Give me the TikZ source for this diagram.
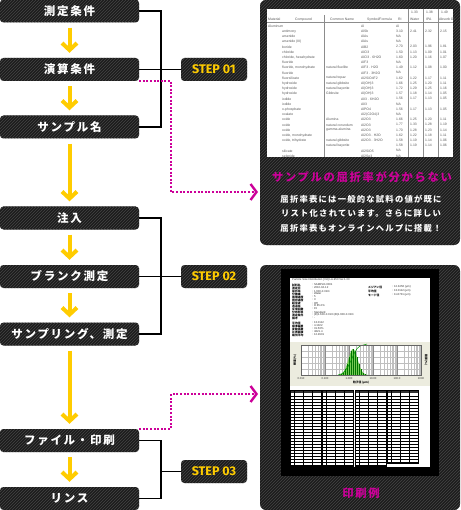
\documentclass[tikz,border=0pt]{standalone}
\usepackage{fontspec}
\setmainfont{Liberation Sans}
\newfontfamily\jp{Noto Sans CJK JP}[LetterSpace=15]
\newfontfamily\jpn{Noto Sans CJK JP}
\newfontfamily\stepf{Fira Sans}
\usetikzlibrary{patterns,arrows.meta,calc}
\definecolor{yel}{HTML}{FFCC00}
\definecolor{mag}{HTML}{CC0099}
\definecolor{hatchbg}{HTML}{1C1C1C}
\definecolor{hatchln}{HTML}{454545}
\definecolor{chartbg}{HTML}{ECECDF}
\definecolor{hgreen}{HTML}{77CC55}
\begin{document}
\begin{tikzpicture}[x=1pt,y=-1pt,
  hatch/.style={preaction={fill=hatchbg}, pattern=north east lines, pattern color=hatchln},
  flowbox/.style={hatch, rounded corners=3.5pt, minimum width=139pt, minimum height=23pt, inner sep=0pt,
    text=white, font=\jp\bfseries\fontsize{11.5}{12}\selectfont},
  stepbox/.style={hatch, rounded corners=3.5pt, minimum width=66pt, minimum height=23pt, inner sep=0pt,
    text=yel, font=\stepf\bfseries\fontsize{12.5}{13}\selectfont},
  panel/.style={hatch, rounded corners=6pt, minimum width=200pt, minimum height=245pt, inner sep=0pt},
  bracket/.style={draw=black, line width=1.8pt},
  yarrow/.style={draw=yel, line width=4pt, -{Straight Barb[length=7pt,width=15pt,line width=4pt]}},
  magdot/.style={draw=mag, line width=2pt, dash pattern=on 2pt off 1.6pt, -{Straight Barb[length=6pt,width=16pt,line width=2.4pt]}},
  tline/.style={draw=black!45, line width=0.35pt},
  ttext/.style={anchor=west, inner sep=0pt, text=black!65, font=\fontsize{3.4}{4}\selectfont},
  ptext/.style={anchor=west, inner sep=0pt, text=black!80, font=\fontsize{2.8}{3}\selectfont},
  plab/.style={anchor=west, inner sep=0pt, text=black, font=\jpn\bfseries\fontsize{2.8}{3}\selectfont},
  gridl/.style={draw=black!25, line width=0.25pt},
  pline/.style={draw=black, line width=0.3pt}
]
\useasboundingbox (0,0) rectangle (460,510);

% ---------- right panels ----------
\node[panel] (p1) at (360,122.5) {};
\node[panel] (p2) at (360,387.5) {};

% table picture (panel 1)
\node[fill=white, minimum width=186pt, minimum height=148pt, inner sep=0pt] (tab) at (360,83) {};
\draw[tline] (267,22) -- (453,22);
\draw[tline] (324,15) -- (324,157);
\foreach \vx in {408,423,438} \draw[tline] (\vx,9) -- (\vx,157);
\node[ttext] (h1) at (268,19.5) {Material};
\node[ttext] (h2) at (295,19.5) {Compound};
\node[ttext] (h3) at (330,19.5) {Common Name};
\node[ttext] (h4) at (367,19.5) {Symbol/Formula};
\node[ttext] (h5) at (398,19.5) {RI};
\node[ttext] (h6) at (411,12.5) {1.33};
\node[ttext] (h7) at (426,12.5) {1.38};
\node[ttext] (h8) at (441,12.5) {1.49};
\node[ttext] (h9) at (410,19.5) {Water};
\node[ttext] (h10) at (426,19.5) {IPA};
\node[ttext] (h11) at (439,19.5) {Absorb Oil};
\foreach \i/\a/\b/\c/\d/\e/\f/\g/\h in {
 1/Aluminum/{}/{}/Al/Al/{}/{}/{},
 2/{}/antimony/{}/AlSb/3.10/2.41/2.32/2.15,
 3/{}/arsenide/{}/AlAs/NA/{}/{}/{},
 4/{}/arsenide (III)/{}/AlAs/NA/{}/{}/{},
 5/{}/boride/{}/AlB2/2.70/2.03/1.96/1.81,
 6/{}/chloride/{}/AlCl3/1.50/1.13/1.09/1.01,
 7/{}/{chloride, hexahydrate}/{}/AlCl3 . 6H2O/1.60/1.20/1.16/1.07,
 8/{}/fluoride/{}/AlF3/NA/{}/{}/{},
 9/{}/{fluoride, monohydrate}/natural fluellite/AlF3 . H2O/1.49/1.12/1.08/1.00,
 10/{}/fluoride/{}/AlF3 . 3H2O/NA/{}/{}/{},
 11/{}/fluorsilicate/natural topaz/Al2SiO4F2/1.62/1.22/1.17/1.11,
 12/{}/hydroxide/natural gibbsite/Al(OH)3/1.66/1.25/1.20/1.11,
 13/{}/hydroxide/natural bayerite/Al(OH)3/1.72/1.29/1.25/1.16,
 14/{}/hydroxide/Gibbsite/Al(OH)3/1.57/1.18/1.14/1.05,
 15/{}/iodide/{}/AlI3 . 6H2O/1.56/1.17/1.13/1.05,
 16/{}/iodide/{}/AlI3/NA/{}/{}/{},
 17/{}/o-phosphate/{}/AlPO4/1.56/1.17/1.13/1.05,
 18/{}/oxalate/{}/Al2(C2O4)3/NA/{}/{}/{},
 19/{}/oxide/Alumina/Al2O3/1.66/1.25/1.20/1.11,
 20/{}/oxide/natural corundum/Al2O3/1.77/1.33/1.28/1.19,
 21/{}/oxide/gamma-alumina/Al2O3/1.70/1.28/1.23/1.14,
 22/{}/{oxide, monohydrate}/{}/Al2O3 . H2O/1.62/1.22/1.18/1.11,
 23/{}/{oxide, trihydrate}/natural gibbsite/Al2O3 . 3H2O/1.58/1.19/1.14/1.06,
 24/{}/{}/natural bayerite/{}/1.58/1.19/1.14/1.06,
 25/{}/silicate/{}/Al2SiO5/NA/{}/{}/{},
 26/{}/selenide/{}/Al2Se3/NA/{}/{}/{}}{
  \pgfmathsetmacro\ry{26+(\i-1)*5.2}
  \node[ttext] (ra\i) at (268,\ry) {\a};
  \node[ttext] (rb\i) at (282,\ry) {\b};
  \node[ttext] (rc\i) at (326,\ry) {\c};
  \node[ttext] (rd\i) at (361,\ry) {\d};
  \node[ttext] (re\i) at (396,\ry) {\e};
  \node[ttext] (rf\i) at (410,\ry) {\f};
  \node[ttext] (rg\i) at (425,\ry) {\g};
  \node[ttext] (rh\i) at (440,\ry) {\h};
}

% panel 1 texts
\node[text=mag, font=\jp\bfseries\fontsize{11.3}{12}\selectfont] (t1) at (362,177) {サンプルの屈折率が分からない};
\node[align=center, text=white, font=\jp\bfseries\fontsize{8.3}{14.5}\selectfont] (t2) at (361,213.5)
  {屈折率表には一般的な試料の値が既に\\リスト化されています。さらに詳しい\\屈折率表もオンラインヘルプに搭載！};

% print example (panel 2)
\node[fill=black, minimum width=158pt, minimum height=207pt, inner sep=0pt] (frame) at (360,372.5) {};
\node[fill=white, minimum width=140pt, minimum height=189pt, inner sep=0pt] (page) at (360,372.5) {};
\node[ptext] (ph) at (292,279.5) {Particle Size Distribution [Vol]  LA-950  Ver.1.00};
\foreach \i/\l/\v in {1/試料名/SAMPLE-0001, 2/測定日/2010-04-12, 3/屈折率/1.600-0.010i, 4/分散媒/Water,
  5/循環速度/5, 6/撹拌速度/3, 7/超音波/Off, 8/透過率/R 85.2\%, 9/反復回数/15, 10/分布形態/Standard,
  11/測定条件/{(R)1.600-0.010i (B)1.600-0.010i}, 12/備考/-}{
  \pgfmathsetmacro\py{285+(\i-1)*3}
  \node[plab] (pl\i) at (292,\py) {\l};
  \node[ptext] (pv\i) at (312,\py) {: \v};
}
\foreach \i/\l/\v in {1/メジアン径/{12.3456 (μm)}, 2/平均径/{13.0112 (μm)}, 3/モード径/{11.8731 (μm)}}{
  \pgfmathsetmacro\py{287+(\i-1)*4}
  \node[plab] (ql\i) at (368,\py) {\l};
  \node[ptext] (qv\i) at (392,\py) {: \v};
}
\foreach \i/\l/\v in {1/平均径/13.0112, 2/標準偏差/4.1022, 3/変動係数/31.53\%, 4/比表面積/4821.4, 5/幾何平均/12.2901}{
  \pgfmathsetmacro\py{323+(\i-1)*3}
  \node[plab] (sl\i) at (292,\py) {\l};
  \node[ptext] (sv\i) at (312,\py) {: \v};
}
% chart
\fill[chartbg] (290,342) rectangle (430,386);
\fill[white] (301,345) rectangle (421,375);
\foreach \d in {301,325,349,373,397}{
  \foreach \k in {2,...,9}{ \draw[gridl] ({\d+24*log10(\k)},345) -- ({\d+24*log10(\k)},375); }
}
\foreach \gy in {351,357,363,369} \draw[gridl] (301,\gy) -- (421,\gy);
\foreach \d in {301,325,349,373,397,421} \draw[draw=black!45, line width=0.3pt] (\d,345) -- (\d,375);
\fill[hgreen] (339,375) -- plot[domain=339:368, samples=40] (\x,{375-26*exp(-((\x-353)/6.5)^2)}) -- (368,375) -- cycle;
\foreach \hx in {341,343,...,367} \draw[green!45!black, line width=0.3pt] (\hx,375) -- (\hx,{375-26*exp(-((\hx-353)/6.5)^2)});
\draw[green!60!black, line width=0.5pt] (338,375) .. controls (350,374) and (352,350) .. (360,346) -- (367,344);
\draw[draw=black!60, line width=0.3pt] (301,345) rectangle (421,375);
\foreach \d/\t in {301/0.010, 325/0.100, 349/1.000, 373/10.00, 397/100.0, 421/1000}
  \node[ptext, anchor=center] (ax\d) at (\d,378.5) {\t};
\node[plab, anchor=center] (axt) at (361,382.5) {粒子径 (μm)};
\node[plab, anchor=center, rotate=90] (ayl) at (295,360) {頻度 (\%)};
\node[plab, anchor=center, rotate=-90] (ayr) at (426,360) {積算 (\%)};
% tables
\foreach \tx/\th in {290/76, 322.5/76, 355/76, 387/73}{
  \fill[black!80] (\tx,390) rectangle ++(31,3);
  \draw[pline] (\tx,390) rectangle ++(31,\th);
  \foreach \c in {4,13,22} \draw[pline] (\tx+\c,390) -- (\tx+\c,390+\th);
  \pgfmathsetmacro\nr{int((\th-3)/3)}
  \foreach \r in {1,...,\nr} \draw[pline] (\tx,393+\r*3) -- (\tx+31,393+\r*3);
}
\node[text=mag, font=\jp\bfseries\fontsize{11.3}{12}\selectfont] (cap) at (361,493) {印刷例};

% ---------- flow boxes ----------
\node[flowbox] (b1) at (69.5,11) {測定条件};
\node[flowbox] (b2) at (69.5,69.5) {演算条件};
\node[flowbox] (b3) at (69.5,127) {サンプル名};
\node[flowbox] (b4) at (69.5,218) {注入};
\node[flowbox] (b5) at (69.5,276.5) {ブランク測定};
\node[flowbox] (b6) at (69.5,334) {サンプリング、測定};
\node[flowbox] (b7) at (69.5,440.5) {ファイル・印刷};
\node[flowbox] (b8) at (69.5,498.5) {リンス};

\node[stepbox] (s1) at (214,69.5) {STEP 01};
\node[stepbox] (s2) at (214,276.5) {STEP 02};
\node[stepbox] (s3) at (214,471.5) {STEP 03};

% yellow arrows
\foreach \a/\b in {b1/b2, b2/b3, b3/b4, b4/b5, b5/b6, b6/b7, b7/b8}
  \draw[yarrow] ([yshift=-5pt]\a.south) -- ([yshift=5pt]\b.north);

% brackets
\coordinate (kx) at (161,0);
\draw[bracket] (b1.east) -- (b1.east -| kx) -- (b3.east -| kx) -- (b3.east);
\draw[bracket] (b2.east) -- (s1.west);
\draw[bracket] (b4.east) -- (b4.east -| kx) -- (b6.east -| kx) -- (b6.east);
\draw[bracket] (b5.east) -- (s2.west);
\draw[bracket] (b7.east) -- (b7.east -| kx) -- (b8.east -| kx) -- (b8.east);
\draw[bracket] (s3.west -| kx) -- (s3.west);

% magenta dotted connectors
\coordinate (m1) at (258,192);
\coordinate (m2) at (258,394);
\draw[magdot] (b2.south east) -- ++(32,0) |- (m1);
\draw[magdot] (b7.north east) -- ++(32,0) |- (m2);
\end{tikzpicture}
\end{document}
